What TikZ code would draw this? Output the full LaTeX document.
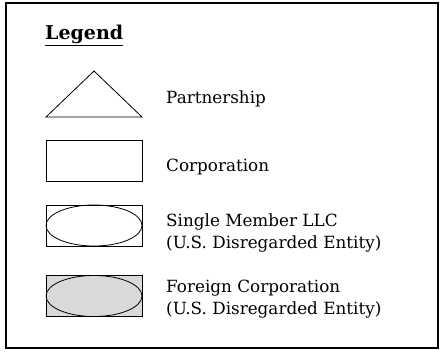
\documentclass[tikz,border=0pt]{standalone}
\usepackage{fontspec}
\setmainfont{DejaVu Serif}
\usetikzlibrary{shapes.geometric}
\definecolor{legendGray}{RGB}{217, 217, 217}

\begin{document}
\begin{tikzpicture}[x=1pt,y=-1pt,
    entity/.style={draw,line width=0.8pt,minimum width=96pt,minimum height=41pt,inner sep=0pt},
    label/.style={anchor=west,align=left,inner sep=0pt,font=\fontsize{16.8}{22}\selectfont}]
            \useasboundingbox (0,0) rectangle (441,351);
            % Frame
            \draw[line width=1.8pt] (6,3) rectangle (438,348);
            \node[anchor=base west,inner sep=0pt,font=\fontsize{19}{22}\selectfont\bfseries] (title) at (45,39.5) {\underline{Legend}};

            % Partnership
            \draw[line width=0.8pt] (46,117) -- (94,71) -- (142,117) -- cycle;
            \node[label] (t1) at (166,98.5) {Partnership};

            % Corporation
            \node[entity] (c1) at (94,161) {};
            \node[label] (t2) at (166,167.5) {Corporation};

            % Single Member LLC
            \node[entity] (s1) at (94,225.5) {};
            \node[entity,ellipse] (s2) at (s1) {};
            \node[label] (t3) at (166,233) {Single Member LLC\\(U.S. Disregarded Entity)};

            % Foreign Corporation
            \node[entity,fill=legendGray] (f1) at (94,296) {};
            \node[entity,ellipse] (f2) at (f1) {};
            \node[label] (t4) at (166,299.5) {Foreign Corporation\\(U.S. Disregarded Entity)};
        \end{tikzpicture}
\end{document}
